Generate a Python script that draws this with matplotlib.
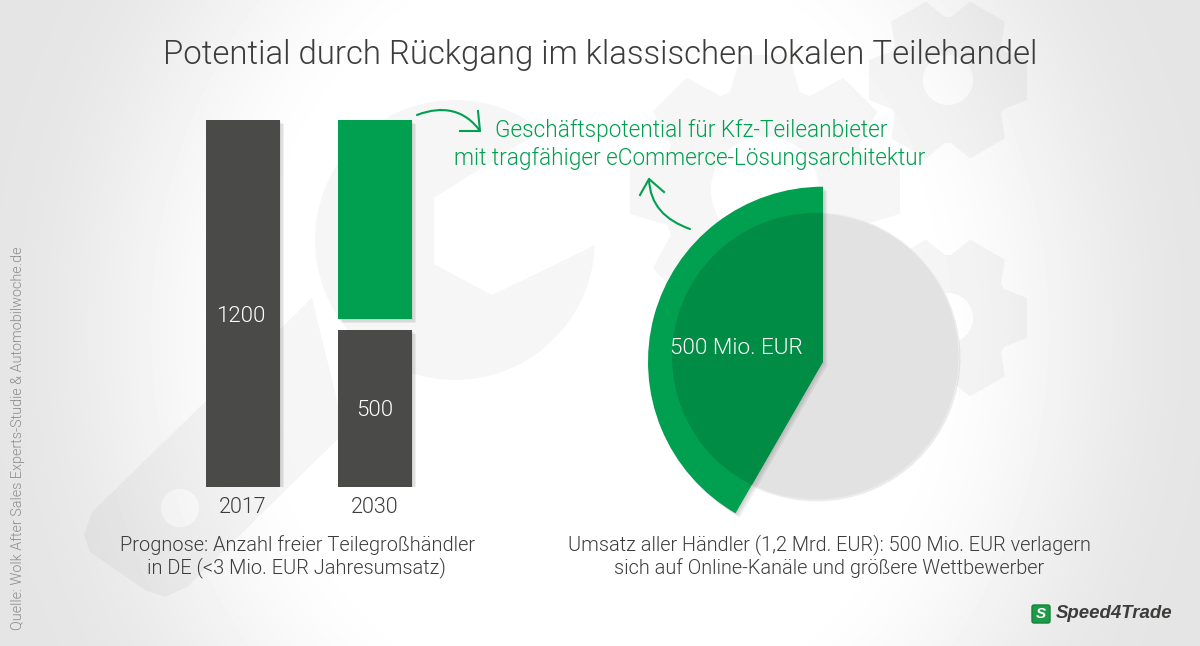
import numpy as np
import matplotlib
matplotlib.use("Agg")
import matplotlib.pyplot as plt
import matplotlib.patheffects as pe
from matplotlib.path import Path
from matplotlib.patches import PathPatch, FancyBboxPatch

W, H = 1200, 646

# data
years = ["2017", "2030"]
bar_total = [1200, 1200]
bar_gray_2030 = 513
bar_gap_2030 = 37
bar_labels = ["1200", "500"]
pie_all = [1200]
pie_online = [500, 700]

title = "Potential durch Rückgang im klassischen lokalen Teilehandel"
green_lines = ["Geschäftspotential für Kfz-Teileanbieter",
               "mit tragfähiger eCommerce-Lösungsarchitektur"]
left_caption = ["Prognose: Anzahl freier Teilegroßhändler",
                "in DE (<3 Mio. EUR Jahresumsatz)"]
right_caption = ["Umsatz aller Händler (1,2 Mrd. EUR): 500 Mio. EUR verlagern",
                 "sich auf Online-Kanäle und größere Wettbewerber"]
source = "Quelle: Wolk After Sales Experts-Studie & Automobilwoche.de"
pie_label = "500 Mio. EUR"

GREEN = "#00A050"
DARK_GREEN = "#008C45"
DARK = "#4A4A49"
TEXT = "#3C3C3B"
FONT = "Roboto"

plt.rcParams["font.family"] = [FONT, "DejaVu Sans"]
plt.rcParams["font.weight"] = 300


def gear_poly(cx, cy, r_out, r_base, teeth, w_out, w_base):
    pts = []
    for i in range(teeth):
        a = 2 * np.pi * i / teeth
        for r, off in [(r_base, -w_base / 2), (r_out, -w_out / 2), (r_out, w_out / 2), (r_base, w_base / 2)]:
            pts.append((cx + r * np.cos(a) - off * np.sin(a), cy + r * np.sin(a) + off * np.cos(a)))
    return Path(pts + [pts[0]])


def make_background():
    # supersampled so the edges of the watermark are soft
    ss = 2
    xs = (np.arange(W * ss) + 0.5) / ss
    ys = (np.arange(H * ss) + 0.5) / ss
    gx, gy = np.meshgrid(xs, ys)
    pts = np.column_stack([gx.ravel(), gy.ravel()])

    def inside(poly):
        return poly.contains_points(pts).reshape(gx.shape)

    def disc(cx, cy, r):
        return (gx - cx) ** 2 + (gy - cy) ** 2 < r ** 2

    mask = np.zeros(gx.shape, dtype=bool)
    # gears
    for cx, cy, r_out, r_base, n, w_o, w_b, hole in [
        (948, 80, 79, 56, 6, 40, 58, 25),
        (948, 318, 79, 56, 6, 40, 58, 25),
        (765, 190, 135, 98, 8, 48, 70, 54),
    ]:
        mask |= inside(gear_poly(cx, cy, r_out, r_base, n, w_o, w_b)) & ~disc(cx, cy, hole)

    # wrench
    wrench = disc(455, 240, 140)
    wrench |= inside(Path([(312, 298), (92, 512), (84, 535), (90, 552), (145, 590),
                           (165, 597), (187, 587), (345, 432), (312, 298)]))
    wrench &= ~inside(Path([(434, 198), (434, 264), (492, 295), (587, 249), (640, 220),
                            (640, 80), (560, 120), (525, 141), (434, 198)]))
    wrench &= ~disc(180, 508, 19)
    mask |= wrench

    d = np.sqrt(((gx - 600) / 620) ** 2 + ((gy - 330) / 700) ** 2)
    t = np.clip((d - 0.5) / 0.5, 0, 1)
    img = 255 - 26 * t * t * (3 - 2 * t)
    img = img * np.where(mask, 0.962, 1.0)
    return img.reshape(H, ss, W, ss).mean(axis=(1, 3))


fig = plt.figure(figsize=(W / 100, H / 100), dpi=100)

bg = fig.add_axes([0, 0, 1, 1], zorder=0)
bg.imshow(make_background(), cmap="gray", vmin=0, vmax=255, extent=(0, W, H, 0), aspect="auto")
bg.axis("off")

shadow = [pe.SimplePatchShadow(offset=(o, -o), shadow_rgbFace="k", alpha=0.06, rho=1) for o in (3, 2, 1)] + [pe.Normal()]

# bars: category 0 sits on x=243 px, category 1 on x=375 px, value 0 on y=487 px, 1200 on y=120 px
bars = fig.add_axes([177 / W, (H - 487) / H, 264 / W, 367 / H], zorder=1)
bars.set_xlim(-0.5, 1.5)
bars.set_ylim(0, 1200)
bars.patch.set_visible(False)
for s in bars.spines.values():
    s.set_visible(False)
x = np.arange(len(years))
bar_w = 0.56
b1 = bars.bar(x[0], bar_total[0], width=bar_w, color=DARK)
b2 = bars.bar(x[1], bar_gray_2030, width=bar_w, color=DARK)
green_bottom = bar_gray_2030 + bar_gap_2030
b3 = bars.bar(x[1], bar_total[1] - green_bottom, bottom=green_bottom, width=bar_w, color=GREEN)
for c in (b1, b2, b3):
    c[0].set_path_effects(shadow)
bars.set_xticks(x, years)
bars.set_yticks([])
bars.tick_params(axis="x", length=0, pad=7, labelsize=15.5, labelcolor=TEXT)

# everything else in pixel coordinates, y counted from the bottom
over = fig.add_axes([0, 0, 1, 1], zorder=2)
over.patch.set_visible(False)


def py(y):
    return H - y


# pie: grey full circle, green part on top, overlap darker
grey, _ = over.pie(pie_all, radius=143.5, center=(815.5, py(356.5)), colors=["#E2E2E2"],
                   wedgeprops=dict(edgecolor="#EDEDED", linewidth=0.8))
grey[0].set_path_effects([pe.SimplePatchShadow(offset=(1, -1), shadow_rgbFace="k", alpha=0.08, rho=1), pe.Normal()])
wedges, _ = over.pie(pie_online, radius=175, center=(823, py(361.7)), startangle=90,
                     colors=[GREEN, "none"], wedgeprops=dict(linewidth=0))
wedges[0].set_path_effects(shadow)
overlap, _ = over.pie(pie_all, radius=143.5, center=(815.5, py(356.5)), colors=[DARK_GREEN],
                      wedgeprops=dict(linewidth=0))
overlap[0].set_clip_on(True)
overlap[0].set_clip_path(wedges[0])
over.set_xlim(0, W)
over.set_ylim(0, H)
over.set_aspect("auto")
over.axis("off")

# arrows
for verts, barbs in [
    ([(417, 115), (443, 105), (465, 110), (480, 131)], [(478, 111), (480, 131), (460, 131)]),
    ([(690, 229), (665, 220), (650, 205), (649, 179)], [(640, 195), (649, 179), (664, 192)]),
]:
    v = [(a, py(b)) for a, b in verts]
    over.add_patch(PathPatch(Path(v, [Path.MOVETO, Path.CURVE4, Path.CURVE4, Path.CURVE4]),
                             fill=False, edgecolor=GREEN, linewidth=1.5, capstyle="round"))
    over.plot([a for a, b in barbs], [py(b) for a, b in barbs], color=GREEN, linewidth=1.5)

# texts
over.text(600, py(55), title, ha="center", va="center", fontsize=23.7, color=TEXT)
over.text(691, py(131), green_lines[0], ha="center", va="center", fontsize=16.3, color=GREEN)
over.text(689.5, py(158), green_lines[1], ha="center", va="center", fontsize=16.3, color=GREEN)
over.text(297.5, py(545), left_caption[0], ha="center", va="center", fontsize=14.4, color=TEXT)
over.text(296, py(568), left_caption[1], ha="center", va="center", fontsize=14.4, color=TEXT)
over.text(829.5, py(545), right_caption[0], ha="center", va="center", fontsize=14.35, color=TEXT)
over.text(829.5, py(568), right_caption[1], ha="center", va="center", fontsize=14.35, color=TEXT)
over.text(241, py(316), bar_labels[0], ha="center", va="center", fontsize=16, color="white")
over.text(375, py(410), bar_labels[1], ha="center", va="center", fontsize=16, color="white")
over.text(736, py(348), pie_label, ha="center", va="center", fontsize=16.2, color="white")
over.text(18, py(438), source, rotation=90, ha="center", va="center", fontsize=10.35, color="#8C8C8C")

# logo
over.add_patch(FancyBboxPatch((1032, py(623)), 18, 18, boxstyle="round,pad=0,rounding_size=2",
                              facecolor="#1E9A48", edgecolor="#12833A", linewidth=1))
over.text(1041, py(614), "S", ha="center", va="center", fontsize=11, color="white",
          fontweight="bold", fontstyle="italic", family="Liberation Sans")
over.text(1114.5, py(614), "Speed4Trade", ha="center", va="center", fontsize=13.4, color="#3C3C3B",
          fontweight="bold", fontstyle="italic", family="Liberation Sans")

fig.savefig("out.png", dpi=100)
